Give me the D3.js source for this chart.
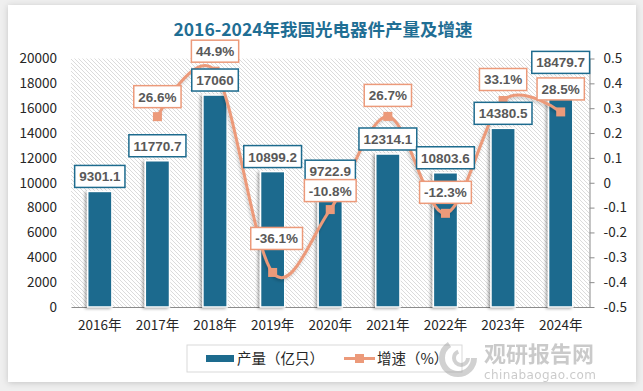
<!DOCTYPE html>
<html><head><meta charset="utf-8">
<script src="https://cdn.jsdelivr.net/npm/d3@7/dist/d3.min.js"></script>
<style>
html,body{margin:0;padding:0;background:#efefef;}
svg{display:block;}
</style></head>
<body>
<svg id="c" width="643" height="391"></svg>
<script>
// ---- data ----
const years = ['2016年','2017年','2018年','2019年','2020年','2021年','2022年','2023年','2024年'];
const output = [9301.1, 11770.7, 17060, 10899.2, 9722.9, 12314.1, 10803.6, 14380.5, 18479.7];
const growth = [null, 0.266, 0.449, -0.361, -0.108, 0.267, -0.123, 0.331, 0.285];
const leftTicks = [0,2000,4000,6000,8000,10000,12000,14000,16000,18000,20000];
const rightTicks = [-0.5,-0.4,-0.3,-0.2,-0.1,0,0.1,0.2,0.3,0.4,0.5];
const titleText = '2016-2024年我国光电器件产量及增速';
const legendNames = ['产量（亿只）','增速（%）'];
// label layout tweaks (gap above point, horizontal shift)
const growthLabelGap = [0, 9, 9, 23, 8, 10, 10, 10, 12];
const growthLabelDx = [0, 0, 0, 4, 0, 0, 0, 0, 0];

const barColor = '#1d6b8e', lineColor = '#ec9a7a', textGrey = '#595959';
const svg = d3.select('#c');
const defs = svg.append('defs');

const cs = defs.append('filter').attr('id','cardShadow').attr('x','-5%').attr('y','-5%').attr('width','110%').attr('height','110%');
cs.append('feDropShadow').attr('dx',0).attr('dy',1).attr('stdDeviation',3).attr('flood-color','#000').attr('flood-opacity',0.18);
const bs = defs.append('filter').attr('id','barShadow').attr('x','-50%').attr('y','-10%').attr('width','200%').attr('height','120%');
bs.append('feDropShadow').attr('dx',-2).attr('dy',1).attr('stdDeviation',1.5).attr('flood-color','#000').attr('flood-opacity',0.35);
const ls = defs.append('filter').attr('id','lineShadow').attr('x','-10%').attr('y','-10%').attr('width','120%').attr('height','120%');
ls.append('feDropShadow').attr('dx',-1).attr('dy',2).attr('stdDeviation',1.5).attr('flood-color','#000').attr('flood-opacity',0.2);

const pat = defs.append('pattern').attr('id','hatch').attr('patternUnits','userSpaceOnUse').attr('width',4).attr('height',4);
pat.append('rect').attr('width',4).attr('height',4).attr('fill','#fff');
pat.append('path').attr('d','M-1,-1 L5,5 M3,-1 L5,1 M-1,3 L1,5').attr('stroke','#d2d2d2').attr('stroke-width',0.8);

// card
svg.append('rect').attr('x',8).attr('y',5).attr('width',628).attr('height',377).attr('fill','#fff').attr('filter','url(#cardShadow)');

const L = 71, R = 589.5, T = 58.5, B = 307;
const x = d3.scaleBand().domain(years).range([L, R]).padding(0);
const yL = d3.scaleLinear().domain([0, 20000]).range([B, T]);
const yR = d3.scaleLinear().domain([-0.5, 0.5]).range([B, T]);
const barW = x.bandwidth() * 0.42;

svg.append('rect').attr('x',L).attr('y',T).attr('width',R-L).attr('height',B-T).attr('fill','url(#hatch)');

// title
svg.append('text').attr('x',323).attr('y',36).attr('text-anchor','middle')
  .attr('font-family','"Noto Sans CJK SC", "DejaVu Sans", sans-serif').attr('font-weight','bold')
  .attr('font-size',17.5).attr('fill','#1f6e94').text(titleText);

// axes
const fontAxis = '"Noto Sans CJK SC", "Liberation Sans", sans-serif';
const gl = svg.append('g').attr('transform',`translate(${L},0)`)
  .call(d3.axisLeft(yL).tickValues(leftTicks).tickSize(0).tickPadding(14).tickFormat(d => String(d)));
gl.select('.domain').remove();
const gr = svg.append('g').attr('transform',`translate(${R},0)`)
  .call(d3.axisRight(yR).tickValues(rightTicks).tickSize(5).tickSizeOuter(0).tickPadding(9).tickFormat(d => String(Math.round(d*10)/10)));
gr.select('.domain').attr('stroke','#8c8c8c');
gr.selectAll('.tick line').attr('stroke','#8c8c8c');
const gb = svg.append('g').attr('transform',`translate(0,${B})`)
  .call(d3.axisBottom(x).tickSize(0).tickPadding(13));
gb.select('.domain').attr('stroke','#8c8c8c').attr('stroke-width',1.2);
[gl, gr, gb].forEach(g => g.selectAll('text').attr('font-family',fontAxis).attr('font-size',13.5).attr('fill','#262626'));

// bars
svg.append('g').selectAll('rect').data(output).join('rect')
  .attr('x',(d,i) => x(years[i]) + (x.bandwidth()-barW)/2)
  .attr('y',d => yL(d)).attr('width',barW).attr('height',d => B - yL(d))
  .attr('fill',barColor).attr('stroke','#fff').attr('stroke-width',1.5)
  .attr('filter','url(#barShadow)');

// line
const pts = growth.map((g,i) => g == null ? null : [x(years[i]) + x.bandwidth()/2, yR(g)]).filter(p => p);
svg.append('path').attr('d', d3.line().curve(d3.curveCardinal.tension(0))(pts))
  .attr('fill','none').attr('stroke',lineColor).attr('stroke-width',3).attr('filter','url(#lineShadow)');
svg.append('g').selectAll('rect').data(pts).join('rect')
  .attr('x',p => p[0]-4.5).attr('y',p => p[1]-4.5).attr('width',9).attr('height',9).attr('fill',lineColor);

function labelBox(g, cx, bottom, txt, border) {
  const grp = g.append('g');
  const t = grp.append('text').attr('x',cx).attr('y',bottom-6).attr('text-anchor','middle')
    .attr('font-family','"Liberation Sans", Arial, sans-serif').attr('font-weight','bold')
    .attr('font-size',13.5).attr('fill',textGrey).text(txt);
  const w = t.node().getComputedTextLength() + 9;
  grp.insert('rect','text').attr('x',cx - w/2).attr('y',bottom-22).attr('width',w).attr('height',22)
    .attr('fill','#fff').attr('stroke',border).attr('stroke-width',1.5);
}
const gBarLab = svg.append('g');
output.forEach((v,i) => labelBox(gBarLab, x(years[i]) + x.bandwidth()/2, yL(v) - 4, String(v), barColor));
const gGrowLab = svg.append('g');
growth.forEach((g,i) => {
  if (g == null) return;
  labelBox(gGrowLab, x(years[i]) + x.bandwidth()/2 + growthLabelDx[i], yR(g) - growthLabelGap[i], (g*100).toFixed(1) + '%', lineColor);
});

// legend
const lg = svg.append('g');
lg.append('rect').attr('x',187).attr('y',345).attr('width',275).attr('height',27).attr('fill','#fff').attr('stroke','#d9d9d9');
lg.append('rect').attr('x',206).attr('y',355).attr('width',28).attr('height',7).attr('fill',barColor);
lg.append('text').attr('x',237).attr('y',363.5).attr('font-family',fontAxis).attr('font-size',14.5).attr('fill','#262626').text(legendNames[0]);
lg.append('line').attr('x1',344).attr('x2',375).attr('y1',358.5).attr('y2',358.5).attr('stroke',lineColor).attr('stroke-width',3);
lg.append('rect').attr('x',355).attr('y',354).attr('width',9).attr('height',9).attr('fill',lineColor);
lg.append('text').attr('x',377).attr('y',363.5).attr('font-family',fontAxis).attr('font-size',14.5).attr('fill','#262626').text(legendNames[1]);

// watermark
const wm = svg.append('g').attr('opacity',0.45);
wm.append('circle').attr('cx',458).attr('cy',358).attr('r',16).attr('fill','none').attr('stroke','#9a9a9a').attr('stroke-width',6).attr('stroke-dasharray','66 35');
wm.append('circle').attr('cx',461).attr('cy',358).attr('r',7).attr('fill','none').attr('stroke','#9a9a9a').attr('stroke-width',4).attr('stroke-dasharray','30 14');
wm.append('text').attr('x',484).attr('y',362).attr('font-family','"Noto Sans CJK SC", sans-serif').attr('font-weight','bold').attr('font-size',22).attr('fill','#8c8c8c').text('观研报告网');
wm.append('text').attr('x',484).attr('y',379).attr('font-family','"DejaVu Sans", sans-serif').attr('font-size',12).attr('textLength',112).attr('fill','#8c8c8c').text('chinabaogao.com');
</script>
</body></html>
